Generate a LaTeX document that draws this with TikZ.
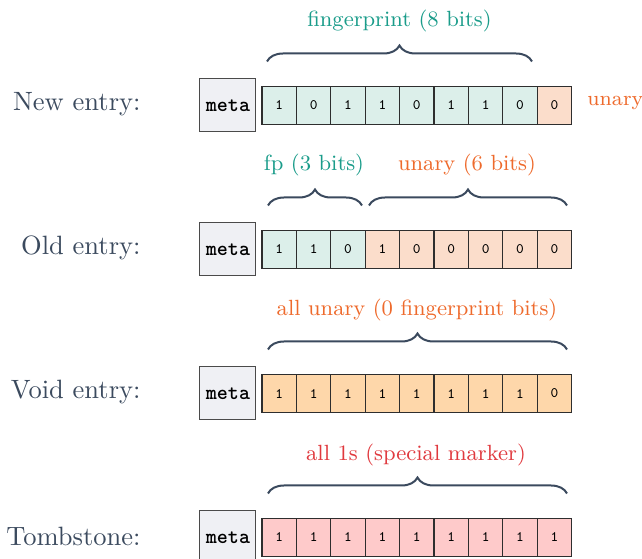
\documentclass[tikz,border=0pt]{standalone}
\usepackage{fontspec}
\usetikzlibrary{decorations.pathreplacing}
\definecolor{ink}{HTML}{3B4A5E}
\definecolor{tealtxt}{HTML}{1A9C8A}
\definecolor{orangetxt}{HTML}{EE6A2C}
\definecolor{redtxt}{HTML}{E0393E}
\definecolor{fpfill}{HTML}{DCEFEA}
\definecolor{unfill}{HTML}{FBDDCB}
\definecolor{voidfill}{HTML}{FED7AA}
\definecolor{tombfill}{HTML}{FECACA}
\definecolor{metafill}{HTML}{EFF0F4}
\definecolor{cellline}{HTML}{2E2E2E}
\definecolor{metaline}{HTML}{4A4A4A}
\tikzset{
  rowlabel/.style={anchor=east, text=ink, inner sep=0pt, font=\fontsize{10.6}{12}\selectfont},
  metabox/.style={draw=metaline, line width=0.4pt, fill=metafill, minimum width=56*0.4pt,
    minimum height=53*0.4pt, inner sep=0pt, font=\fontsize{8.4}{10}\selectfont\ttfamily\bfseries},
  bitcell/.style={draw=cellline, line width=0.45pt, minimum width=34.4*0.4pt,
    minimum height=38*0.4pt, inner sep=0pt, font=\fontsize{5.8}{7}\selectfont\ttfamily},
  fpcell/.style={bitcell, fill=fpfill},
  uncell/.style={bitcell, fill=unfill},
  voidcell/.style={bitcell, fill=voidfill},
  tombcell/.style={bitcell, fill=tombfill},
  curly/.style={draw=ink, line width=0.8pt,
    decorate, decoration={brace, amplitude=6.4pt}},
  bracetext/.style={inner sep=0pt, font=\fontsize{8.8}{11}\selectfont},
}
\begin{document}
\begin{tikzpicture}[x=0.4pt, y=-0.4pt]
\useasboundingbox (0,0) rectangle (642,559);

% ---- row 1: new entry ----
\node[rowlabel] (l1) at (141,104) {New entry:};
\node[metabox] (m1) at (228,105.5) {meta};
\foreach \b [count=\i] in {1,0,1,1,0,1,1,0} {
  \node[fpcell] (a\i) at ({262+34.4*(\i-0.5)},105.5) {\b};
}
\node[uncell] (a9) at ({262+34.4*8.5},105.5) {0};
\node[anchor=west, inner sep=0pt, text=orangetxt, font=\fontsize{8.3}{10}\selectfont] (u1) at (587,103) {unary};
\coordinate (b1s) at (267,61.5);
\coordinate (b1e) at (532,61.5);
\draw[curly] (b1s) -- (b1e);
\node[bracetext, text=tealtxt] (t1) at (399.5,20.5) {fingerprint (8 bits)};

% ---- row 2: old entry ----
\node[rowlabel] (l2) at (141,248) {Old entry:};
\node[metabox] (m2) at (228,249.5) {meta};
\foreach \b [count=\i] in {1,1,0} {
  \node[fpcell] (c\i) at ({262+34.4*(\i-0.5)},249.5) {\b};
}
\foreach \b [count=\i from 4] in {1,0,0,0,0,0} {
  \node[uncell] (c\i) at ({262+34.4*(\i-0.5)},249.5) {\b};
}
\coordinate (b2s) at (268,205.5);
\coordinate (b2m) at (362,205.5);
\coordinate (b2n) at (369,205.5);
\coordinate (b2e) at (567,205.5);
\draw[curly] (b2s) -- (b2m);
\draw[curly] (b2n) -- (b2e);
\node[bracetext, text=tealtxt] (t2a) at (314,165) {fp (3 bits)};
\node[bracetext, text=orangetxt] (t2b) at (467,165) {unary (6 bits)};

% ---- row 3: void entry ----
\node[rowlabel] (l3) at (141,392) {Void entry:};
\node[metabox] (m3) at (228,393.5) {meta};
\foreach \b [count=\i] in {1,1,1,1,1,1,1,1,0} {
  \node[voidcell] (v\i) at ({262+34.4*(\i-0.5)},393.5) {\b};
}
\coordinate (b3s) at (268,349.5);
\coordinate (b3e) at (567,349.5);
\draw[curly] (b3s) -- (b3e);
\node[bracetext, text=orangetxt] (t3) at (417,310) {all unary (0 fingerprint bits)};

% ---- row 4: tombstone ----
\node[rowlabel] (l4) at (141,536) {Tombstone:};
\node[metabox] (m4) at (228,537.5) {meta};
\foreach \b [count=\i] in {1,1,1,1,1,1,1,1,1} {
  \node[tombcell] (s\i) at ({262+34.4*(\i-0.5)},537.5) {\b};
}
\coordinate (b4s) at (268,493.5);
\coordinate (b4e) at (567,493.5);
\draw[curly] (b4s) -- (b4e);
\node[bracetext, text=redtxt] (t4) at (416,455) {all 1s (special marker)};
\end{tikzpicture}
\end{document}
